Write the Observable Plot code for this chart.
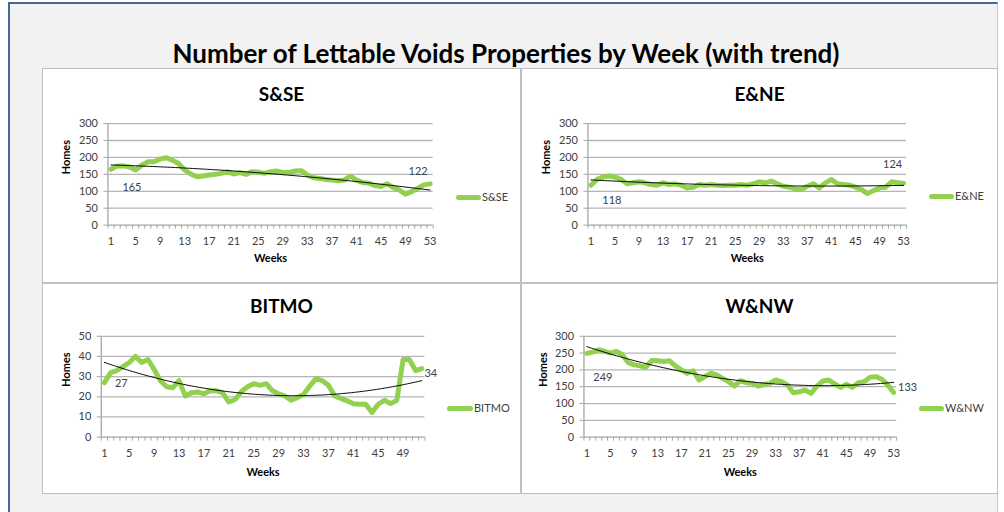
<!DOCTYPE html>
<html>
<head>
<meta charset="utf-8">
<script src="https://cdn.jsdelivr.net/npm/d3@7"></script>
<script src="https://cdn.jsdelivr.net/npm/@observablehq/plot@0.6"></script>
<style>
  html, body { margin: 0; padding: 0; background: #ffffff; }
  body { width: 1004px; height: 512px; position: relative; overflow: hidden; font-family: Lato, "Open Sans", sans-serif; }
  #frame { position: absolute; left: 8px; top: 2px; width: 990px; height: 510px; background: #f2f2f2;
           border-top: 2px solid #44689b; border-left: 2px solid #44689b; border-right: 1px solid #c8c8c8; box-sizing: border-box; }
  #title { position: absolute; left: 0; width: 1012px; top: 38px; text-align: center; font-weight: bold; font-size: 26px; color: #000; line-height: 30px; }
  .panel { position: absolute; background: #fff; border: 1px solid #bfbfbf; box-sizing: border-box; }
  .ptitle { position: absolute; left: 0; right: 0; text-align: center; font-weight: bold; font-size: 19px; color: #000; line-height: 24px; }
  .plot { position: absolute; left: 0; top: 0; }
  .legend { position: absolute; font-size: 11px; color: #404040; line-height: 14px; white-space: nowrap; }
  .swatch { position: absolute; height: 5px; background: #92d050; border-radius: 3px; }
</style>
</head>
<body>
<div id="frame"></div>
<div id="title">Number of Lettable Voids Properties by Week (with trend)</div>
<div id="charts"></div>
<script>
// ---- data ----
const chartTitle = "Number of Lettable Voids Properties by Week (with trend)";
const regions = ["S&SE", "E&NE", "BITMO", "W&NW"];

const ssseValues = [165,175,175,172,163,177,187,187,195,199,192,182,163,151,143,145,148,150,153,158,
  151,155,150,158,156,153,158,160,155,156,160,161,148,140,138,135,133,131,133,145,
  133,126,124,117,114,122,111,104,91,99,109,119,122];

const enneValues = [118,135,142,145,142,135,122,125,128,125,120,118,125,120,122,118,110,112,120,118,
  120,118,117,118,118,120,118,122,128,125,130,122,115,112,107,105,115,122,110,125,
  135,122,120,118,112,105,93,102,110,112,128,125,124];

const bitmoValues = [27,32,33,35,37,40,37,38.5,33.5,28,25,24.5,28,20.4,22,22.4,21.5,23,23,22,
  17.4,18.7,22.5,25,26.5,25.7,26.5,23,21.5,20.4,18.3,19.6,21.2,25.3,29,28,25.7,20.4,19.2,18,
  16.6,16.3,16.3,12.2,16.3,18.3,16.6,18.3,38.5,38.5,33,34];

const wnwValues = [249,253,260,255,250,255,245,222,215,212,208,228,227,225,227,212,200,190,197,170,
  180,190,185,175,165,152,168,162,160,152,157,160,170,165,155,132,135,140,130,152,
  167,170,158,148,157,148,162,165,178,180,172,155,133];

const weekTicks53 = [1,5,9,13,17,21,25,29,33,37,41,45,49,53];
const weekTicks52 = [1,5,9,13,17,21,25,29,33,37,41,45,49];
const homesTicks300 = [0,50,100,150,200,250,300];
const homesTicks50 = [0,10,20,30,40,50];

document.getElementById("title").textContent = chartTitle;

// quadratic least-squares trend (Excel polynomial order 2)
function quadFit(xs, ys) {
  const mx = d3.mean(xs);
  const u = xs.map(x => x - mx);
  let S0 = xs.length, S1 = 0, S2 = 0, S3 = 0, S4 = 0, T0 = 0, T1 = 0, T2 = 0;
  u.forEach((v, i) => { const y = ys[i]; S1 += v; S2 += v*v; S3 += v*v*v; S4 += v*v*v*v; T0 += y; T1 += v*y; T2 += v*v*y; });
  const det3 = (a) => a[0][0]*(a[1][1]*a[2][2]-a[1][2]*a[2][1]) - a[0][1]*(a[1][0]*a[2][2]-a[1][2]*a[2][0]) + a[0][2]*(a[1][0]*a[2][1]-a[1][1]*a[2][0]);
  const M = [[S0,S1,S2],[S1,S2,S3],[S2,S3,S4]];
  const T = [T0,T1,T2];
  const D = det3(M);
  const coef = [0,1,2].map(k => det3(M.map((row, r) => row.map((c, j) => j === k ? T[r] : c))) / D);
  return x => { const v = x - mx; return coef[0] + coef[1]*v + coef[2]*v*v; };
}

const panels = [
  { name: regions[0], values: ssseValues, left: 42, top: 68, w: 479, h: 215, titleTop: 13,
    m: {l: 64.7, r: 87.7, t: 54.3, b: 58.7}, yTicks: homesTicks300, xTicks: weekTicks53,
    homesDx: -41.7, weeksDy: 37.5, first: {dx: 21, dy: 18}, last: {dx: -12, dy: -12},
    legend: {x: 413, y: 128, sw: 25} },
  { name: regions[1], values: enneValues, left: 521, top: 68, w: 477, h: 215, titleTop: 13,
    m: {l: 65.7, r: 91.3, t: 54.3, b: 58.7}, yTicks: homesTicks300, xTicks: weekTicks53,
    homesDx: -41.7, weeksDy: 37.5, first: {dx: 21, dy: 15}, last: {dx: -11, dy: -19},
    legend: {x: 407, y: 127, sw: 25} },
  { name: regions[2], values: bitmoValues, left: 42, top: 283, w: 479, h: 211, titleTop: 10,
    m: {l: 58, r: 96, t: 52, b: 57.7}, yTicks: homesTicks50, xTicks: weekTicks52,
    homesDx: -35, weeksDy: 39.5, first: {dx: 17, dy: 1}, last: {dx: 9, dy: 5},
    legend: {x: 404, y: 124, sw: 26} },
  { name: regions[3], values: wnwValues, left: 521, top: 283, w: 477, h: 211, titleTop: 10,
    m: {l: 61.7, r: 101.3, t: 52, b: 57.7}, yTicks: homesTicks300, xTicks: weekTicks53,
    homesDx: -41, weeksDy: 39.5, first: {dx: 16, dy: 24}, last: {dx: 14, dy: -5},
    legend: {x: 397, y: 124, sw: 25} }
];

const charts = document.getElementById("charts");
for (const p of panels) {
  const n = p.values.length;
  const data = p.values.map((v, i) => ({week: i + 1, value: v}));
  const fit = quadFit(data.map(d => d.week), data.map(d => d.value));
  const trend = d3.range(1, n + 0.001, 0.25).map(x => ({week: x, value: fit(x)}));
  const yMax = d3.max(p.yTicks);

  const div = document.createElement("div");
  div.className = "panel";
  Object.assign(div.style, {left: p.left + "px", top: p.top + "px", width: p.w + "px", height: p.h + "px"});

  const plot = Plot.plot({
    width: p.w, height: p.h,
    marginLeft: p.m.l, marginRight: p.m.r, marginTop: p.m.t, marginBottom: p.m.b,
    style: {background: "transparent", fontFamily: "Lato, 'Open Sans', sans-serif", fontSize: "11px", color: "#404040", overflow: "visible"},
    x: {domain: [0.5, n + 0.5]},
    y: {domain: [0, yMax]},
    marks: [
      Plot.ruleY(p.yTicks.filter(t => t > 0), {stroke: "#b5b5b5", strokeWidth: 1.3}),
      Plot.axisY({ticks: p.yTicks, tickSize: 4, tickPadding: 6, stroke: "#a6a6a6", label: null, tickFormat: d => d}),
      Plot.axisX({ticks: d3.range(0.5, n + 1, 1), tickSize: 4, stroke: "#a6a6a6", tickFormat: () => "", label: null}),
      Plot.axisX({ticks: p.xTicks, tickSize: 0, tickPadding: 12, label: null, tickFormat: d => d}),
      Plot.ruleX([0.5], {stroke: "#a6a6a6", strokeWidth: 1.3}),
      Plot.ruleY([0], {stroke: "#a6a6a6", strokeWidth: 1.3}),
      Plot.line(data, {x: "week", y: "value", stroke: "#92d050", strokeWidth: 5, strokeLinejoin: "round", strokeLinecap: "round"}),
      Plot.line(trend, {x: "week", y: "value", stroke: "#000", strokeWidth: 1}),
      Plot.text([data[0]], {x: "week", y: "value", text: d => d.value, dx: p.first.dx, dy: p.first.dy, fill: "#404040", fontSize: 11}),
      Plot.text([data[n - 1]], {x: "week", y: "value", text: d => d.value, dx: p.last.dx, dy: p.last.dy, fill: "#404040", fontSize: 11}),
      Plot.text(["Homes"], {frameAnchor: "left", dx: p.homesDx, rotate: -90, fontWeight: "bold", fill: "#000", fontSize: 11}),
      Plot.text(["Weeks"], {frameAnchor: "bottom", dy: p.weeksDy, fontWeight: "bold", fill: "#000", fontSize: 11})
    ]
  });
  plot.classList.add("plot");
  div.appendChild(plot);

  const t = document.createElement("div");
  t.className = "ptitle";
  t.style.top = p.titleTop + "px";
  t.textContent = p.name;
  div.appendChild(t);

  const sw = document.createElement("div");
  sw.className = "swatch";
  Object.assign(sw.style, {left: p.legend.x + "px", top: (p.legend.y - 2.5) + "px", width: p.legend.sw + "px"});
  div.appendChild(sw);
  const lt = document.createElement("div");
  lt.className = "legend";
  Object.assign(lt.style, {left: (p.legend.x + p.legend.sw + 1) + "px", top: (p.legend.y - 7) + "px"});
  lt.textContent = p.name;
  div.appendChild(lt);

  charts.appendChild(div);
}
</script>
</body>
</html>
